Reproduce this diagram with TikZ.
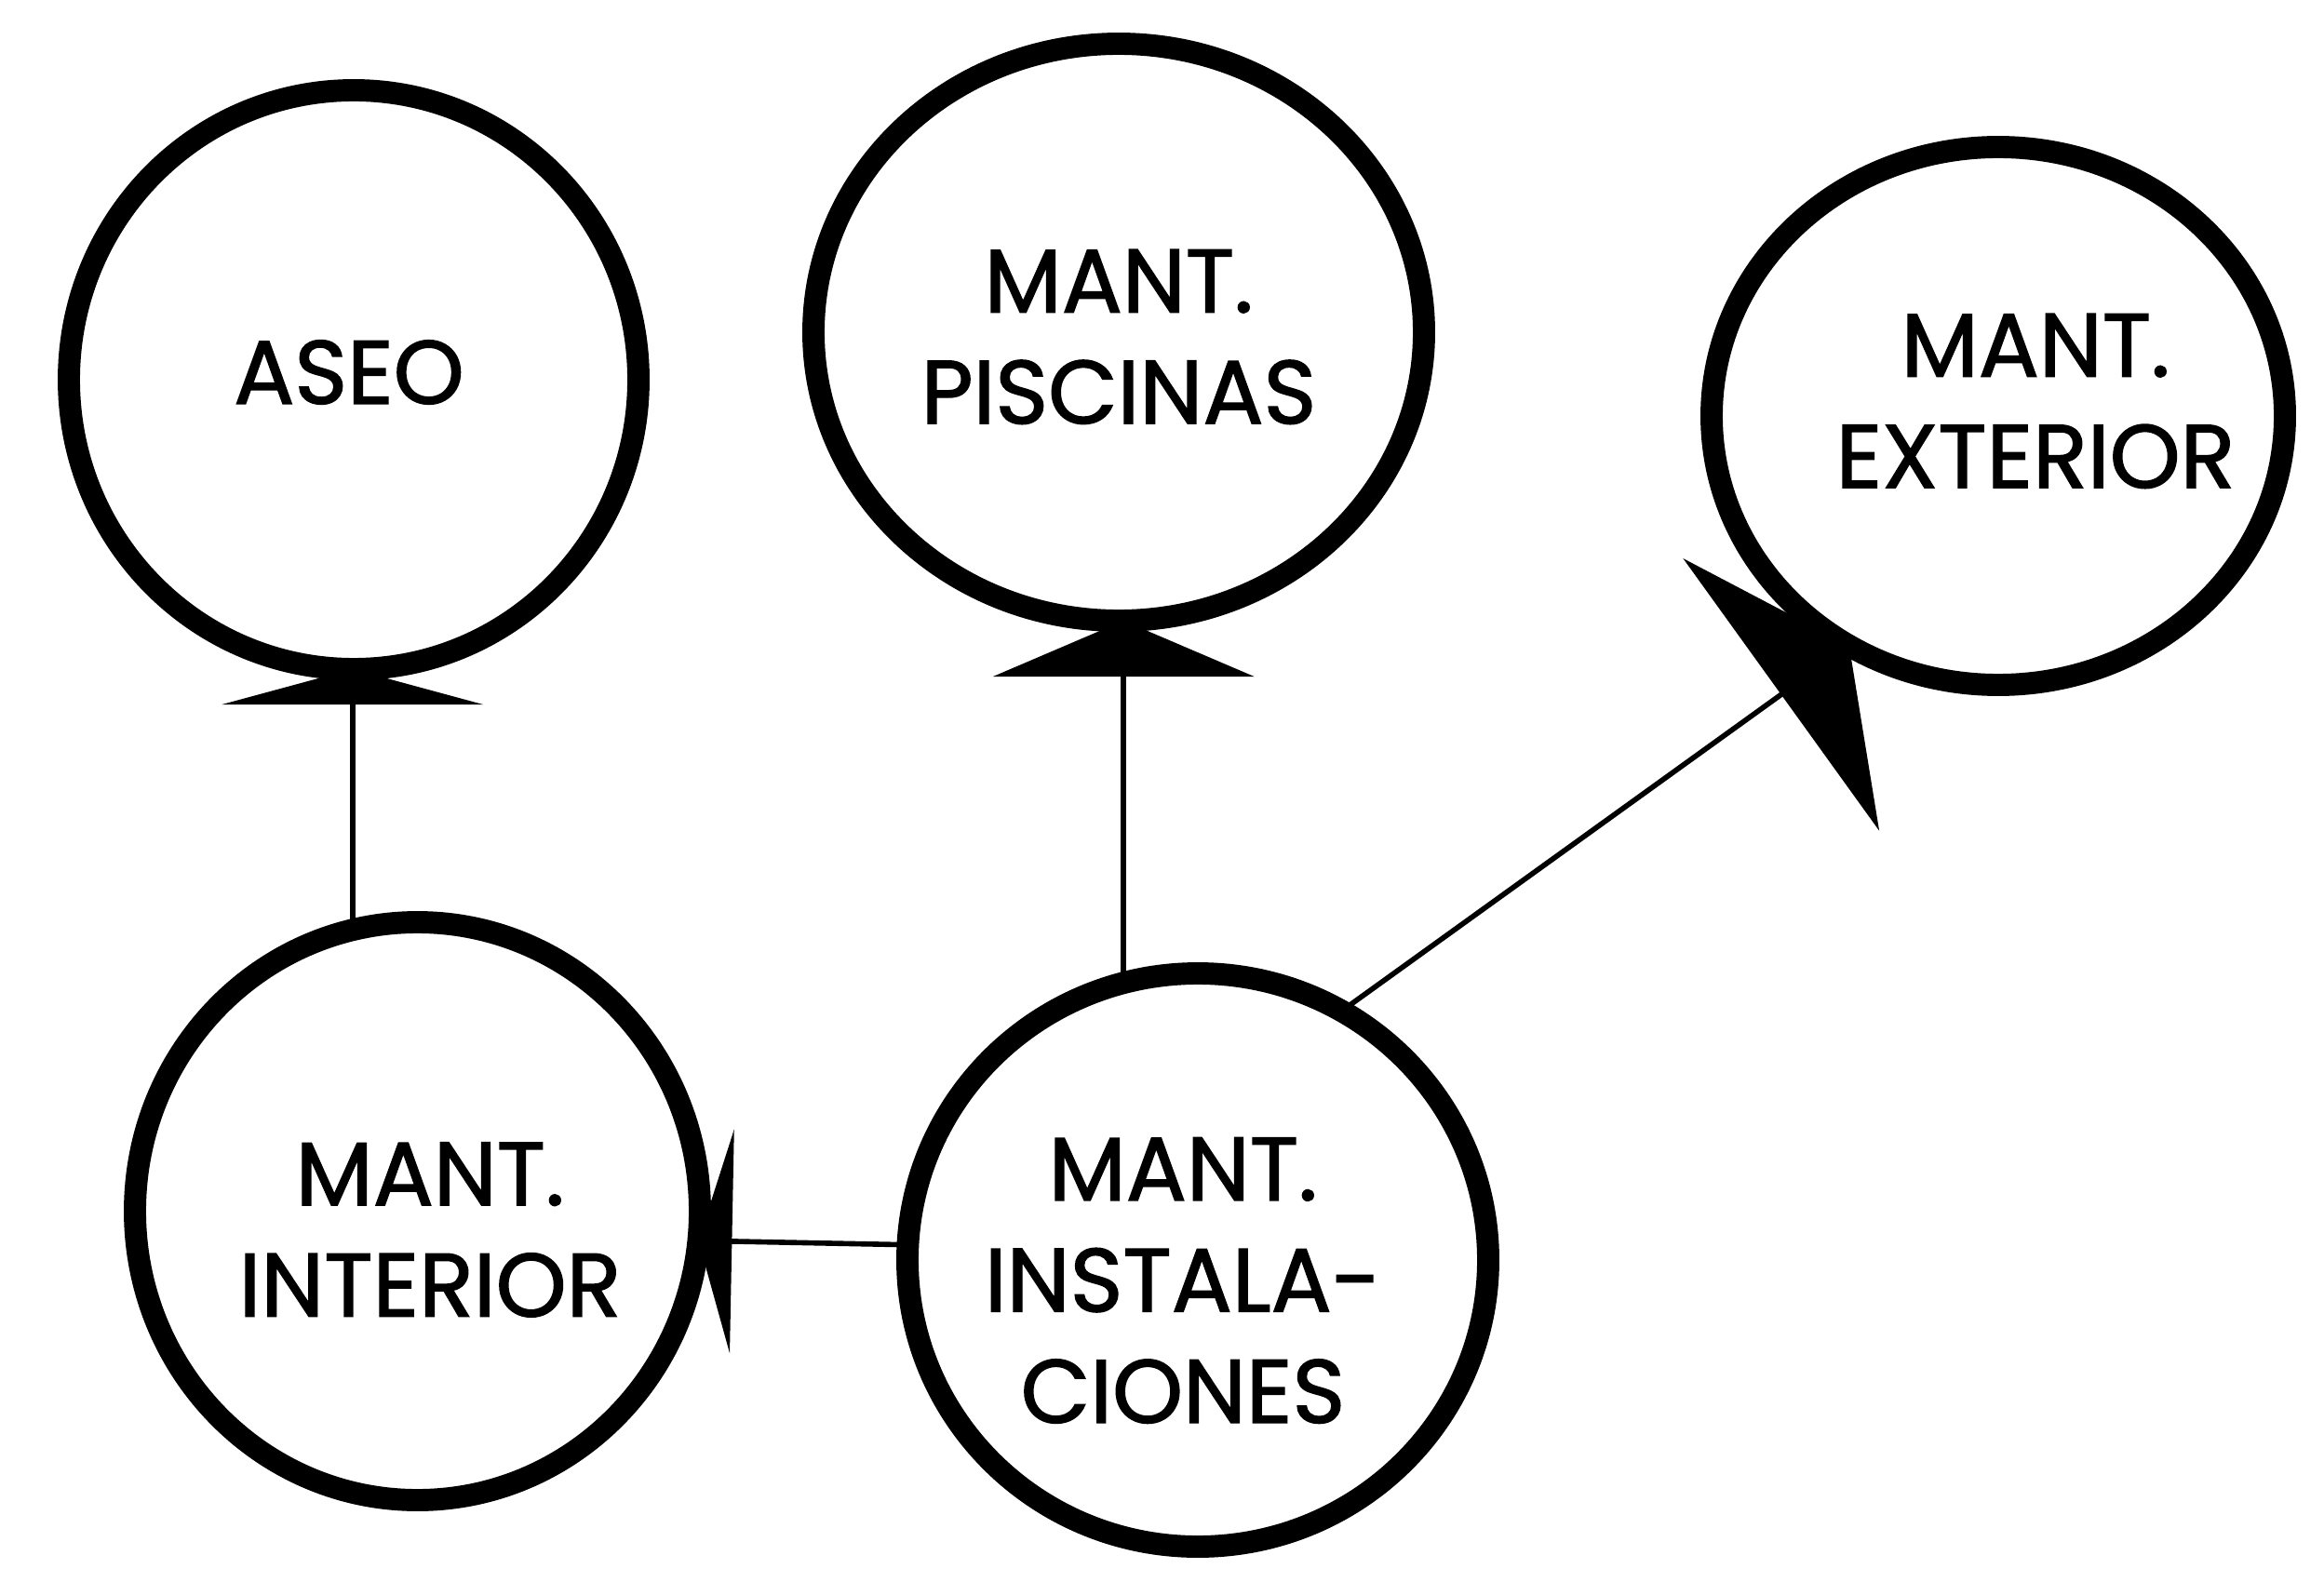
\documentclass[tikz,border=0pt]{standalone}
\usepackage{fontspec}
\setmainfont{Poppins}[FakeBold=1.5]
\usetikzlibrary{arrows.meta,shapes.geometric}

\begin{document}
\begin{tikzpicture}[
        area/.style={ellipse, draw, line width=6.8pt, outer sep=0pt, inner sep=0pt},
        rotulo/.style={align=center, inner sep=0pt, font=\fontsize{27.5}{34}\selectfont},
        conector/.style={line width=1.6pt},
        flecha/.style 2 args={-{Triangle[width=#1, length=#2]}, conector}
    ]
        \useasboundingbox (0,0) rectangle (24.97,16.99);

        % areas
        \node[area, minimum width=6.12cm, minimum height=6.22cm] (aseo) at (3.80,12.91) {};
        \node[area, minimum width=6.56cm, minimum height=6.20cm] (piscinas) at (12.02,13.42) {};
        \node[area, minimum width=6.16cm, minimum height=5.78cm] (exterior) at (21.47,12.52) {};
        \node[area, minimum width=6.07cm, minimum height=6.21cm] (interior) at (4.485,3.975) {};
        \node[area, minimum width=6.24cm, minimum height=6.16cm] (instalaciones) at (12.87,3.45) {};

        % rotulos
        \node[rotulo] (aseo-txt) at ([shift={(-0.05,0.08)}]aseo.center) {ASEO};
        \node[rotulo] (piscinas-txt) at ([shift={(0,-0.05)}]piscinas.center) {MANT.\\PISCINAS};
        \node[rotulo] (exterior-txt) at ([shift={(0.4,0.16)}]exterior.center) {MANT.\\EXTERIOR};
        \node[rotulo] (interior-txt) at ([shift={(0.135,-0.2)}]interior.center) {MANT.\\INTERIOR};
        \node[rotulo] (instalaciones-txt) at ([shift={(-0.16,-0.22)}]instalaciones.center) {MANT.\\INSTALA-\\CIONES};

        % conexiones
        \draw[flecha={2.8cm}{0.38cm}] (interior.103) -- (interior.103 |- aseo.south);
        \draw[flecha={2.8cm}{0.6cm}] (instalaciones.105) -- (instalaciones.105 |- piscinas.south);
        \draw[flecha={2.4cm}{0.36cm}] (instalaciones.177) -- (interior.354);
        \draw[flecha={3.6cm}{0.9cm}] (instalaciones.60) -- (exterior.237);
    \end{tikzpicture}
\end{document}
